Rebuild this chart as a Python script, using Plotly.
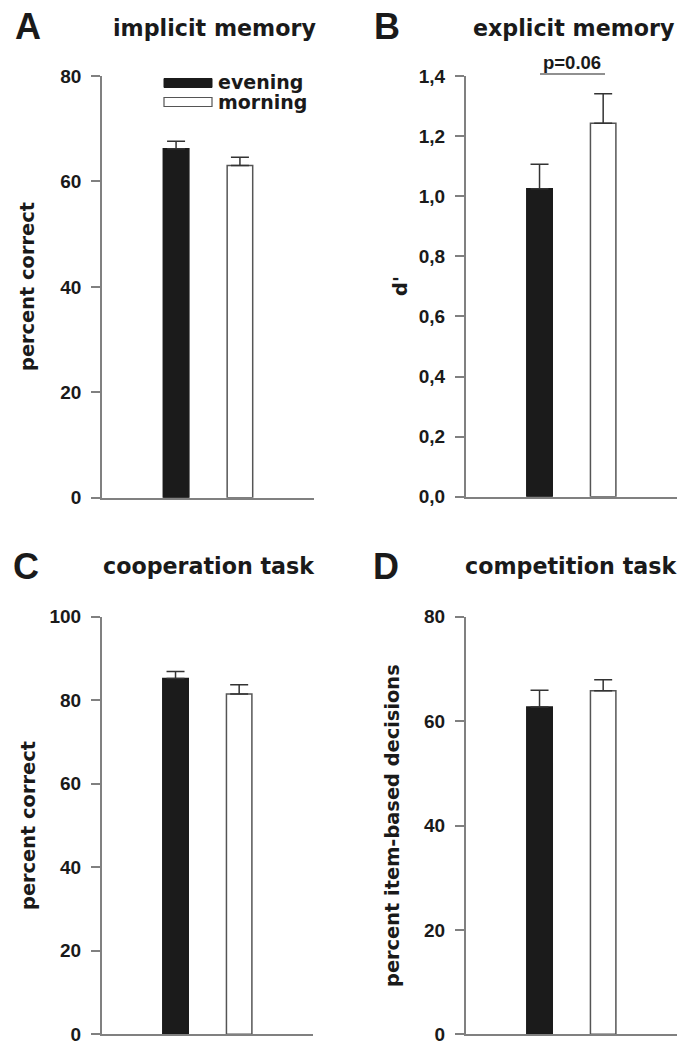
import plotly.graph_objects as go

# ---------------- data ----------------
sessions = ["evening", "morning"]
panel_letters = ["A", "B", "C", "D"]
panel_titles = ["implicit memory", "explicit memory", "cooperation task", "competition task"]
y_titles = ["percent correct", "d'", "percent correct", "percent item-based decisions"]

implicit_mean = [66.2, 63.0]
implicit_sem = [1.4, 1.6]
explicit_mean = [1.025, 1.243]
explicit_sem = [0.081, 0.098]
cooperation_mean = [85.2, 81.5]
cooperation_sem = [1.7, 2.2]
competition_mean = [62.7, 65.8]
competition_sem = [3.2, 2.1]

ticks_A = [0, 20, 40, 60, 80]
ticks_B = [0.0, 0.2, 0.4, 0.6, 0.8, 1.0, 1.2, 1.4]
ticklabels_B = ["0,0", "0,2", "0,4", "0,6", "0,8", "1,0", "1,2", "1,4"]
ticks_C = [0, 20, 40, 60, 80, 100]
ticks_D = [0, 20, 40, 60, 80]

p_label = "p=0.06"

# ---------------- style ----------------
W, H = 686, 1045
FONT = "Liberation Sans, Arial, sans-serif"
FONT_TXT = "DejaVu Sans, Liberation Sans, sans-serif"
TXT = "#1a1a1a"
AX = "#808080"
BAR_FILL = ["#1b1b1b", "#ffffff"]
BAR_LINE = ["#1b1b1b", "#555555"]

def px_x(x):
    return x / W

def px_y(y):
    return 1 - y / H

panels = [
    dict(means=implicit_mean, sems=implicit_sem, ticks=ticks_A, labels=[str(t) for t in ticks_A],
         yr=[0, 80], xd=[102, 314], yd=[497.7, 76]),
    dict(means=explicit_mean, sems=explicit_sem, ticks=ticks_B, labels=ticklabels_B,
         yr=[0, 1.4], xd=[465.7, 677], yd=[496.7, 76]),
    dict(means=cooperation_mean, sems=cooperation_sem, ticks=ticks_C, labels=[str(t) for t in ticks_C],
         yr=[0, 100], xd=[101.7, 313], yd=[1034.3, 616.7]),
    dict(means=competition_mean, sems=competition_sem, ticks=ticks_D, labels=[str(t) for t in ticks_D],
         yr=[0, 80], xd=[465.7, 677], yd=[1034.3, 616.7]),
]

fig = go.Figure()
layout = dict(
    template="none",
    width=W, height=H, autosize=False,
    margin=dict(l=0, r=0, t=0, b=0, pad=0),
    paper_bgcolor="white", plot_bgcolor="white",
    showlegend=False, barmode="overlay",
    font=dict(family=FONT, color=TXT),
)

for i, p in enumerate(panels):
    n = "" if i == 0 else str(i + 1)
    xa, ya = "x" + n, "y" + n
    for j, s in enumerate(sessions):
        fig.add_trace(go.Bar(
            x=[s], y=[p["means"][j]], width=0.40,
            marker=dict(color=BAR_FILL[j], line=dict(color=BAR_LINE[j], width=1.5)),
            error_y=dict(type="data", symmetric=False, array=[p["sems"][j]], arrayminus=[0],
                         color="#333333", thickness=1.5, width=9),
            xaxis=xa, yaxis=ya, name=s, hoverinfo="skip",
        ))
    layout["xaxis" + n] = dict(
        domain=[px_x(p["xd"][0]), px_x(p["xd"][1])], anchor=ya, automargin=False,
        type="category", categoryorder="array", categoryarray=sessions,
        range=[-1.16, 2.16], showline=True, linecolor=AX, linewidth=1.5,
        showticklabels=False, ticks="", showgrid=False, zeroline=False,
    )
    layout["yaxis" + n] = dict(
        domain=[px_y(p["yd"][0]), px_y(p["yd"][1])], anchor=xa, automargin=False,
        range=p["yr"], tickvals=p["ticks"], ticktext=p["labels"],
        showline=True, linecolor=AX, linewidth=1.5,
        ticks="outside", ticklen=9, tickwidth=1.5, tickcolor=AX,
        tickfont=dict(family=FONT, size=19, color=TXT, weight="bold"),
        ticklabelstandoff=6, ticklabeloverflow="allow",
        showgrid=False, zeroline=False,
    )

fig.update_layout(**layout)

def ann(text, x, y, size, angle=0, family=FONT_TXT):
    fig.add_annotation(text=text, x=px_x(x), y=px_y(y), xref="paper", yref="paper",
                       xanchor="center", yanchor="middle", showarrow=False, textangle=angle,
                       borderpad=0,
                       font=dict(family=family, size=size, color=TXT, weight="bold"))

# panel letters and titles
letter_pos = [(27.5, 27), (387, 27), (25.5, 566), (386.3, 566)]
title_pos = [(214.5, 28), (574, 28), (208.7, 566), (570.5, 566)]
for k in range(4):
    ann(panel_letters[k], *letter_pos[k], 36, family=FONT)
    ann(panel_titles[k], *title_pos[k], 22.2)

# y-axis titles
ytitle_pos = [(28, 287), (401, 286), (28, 826), (392, 826)]
for k in range(4):
    ann(y_titles[k], *ytitle_pos[k], 19.4, angle=-90)

# legend (panel A)
fig.add_shape(type="rect", xref="paper", yref="paper",
              x0=px_x(164), x1=px_x(212), y0=px_y(87.5), y1=px_y(78.5),
              fillcolor=BAR_FILL[0], line=dict(color=BAR_LINE[0], width=1))
fig.add_shape(type="rect", xref="paper", yref="paper",
              x0=px_x(164), x1=px_x(212), y0=px_y(106.5), y1=px_y(97.5),
              fillcolor=BAR_FILL[1], line=dict(color=BAR_LINE[1], width=1.2))
for j, yy in enumerate([81.5, 101.5]):
    fig.add_annotation(text=sessions[j], x=px_x(217), y=px_y(yy), xref="paper", yref="paper",
                       xanchor="left", yanchor="middle", showarrow=False, borderpad=0,
                       font=dict(family=FONT_TXT, size=19, color=TXT, weight="bold"))

# significance marker (panel B)
fig.add_shape(type="line", xref="paper", yref="paper",
              x0=px_x(540), x1=px_x(605), y0=px_y(74), y1=px_y(74),
              line=dict(color="#222222", width=1.2))
ann(p_label, 572, 62, 18.5, family=FONT)

fig.write_html("out.html")
